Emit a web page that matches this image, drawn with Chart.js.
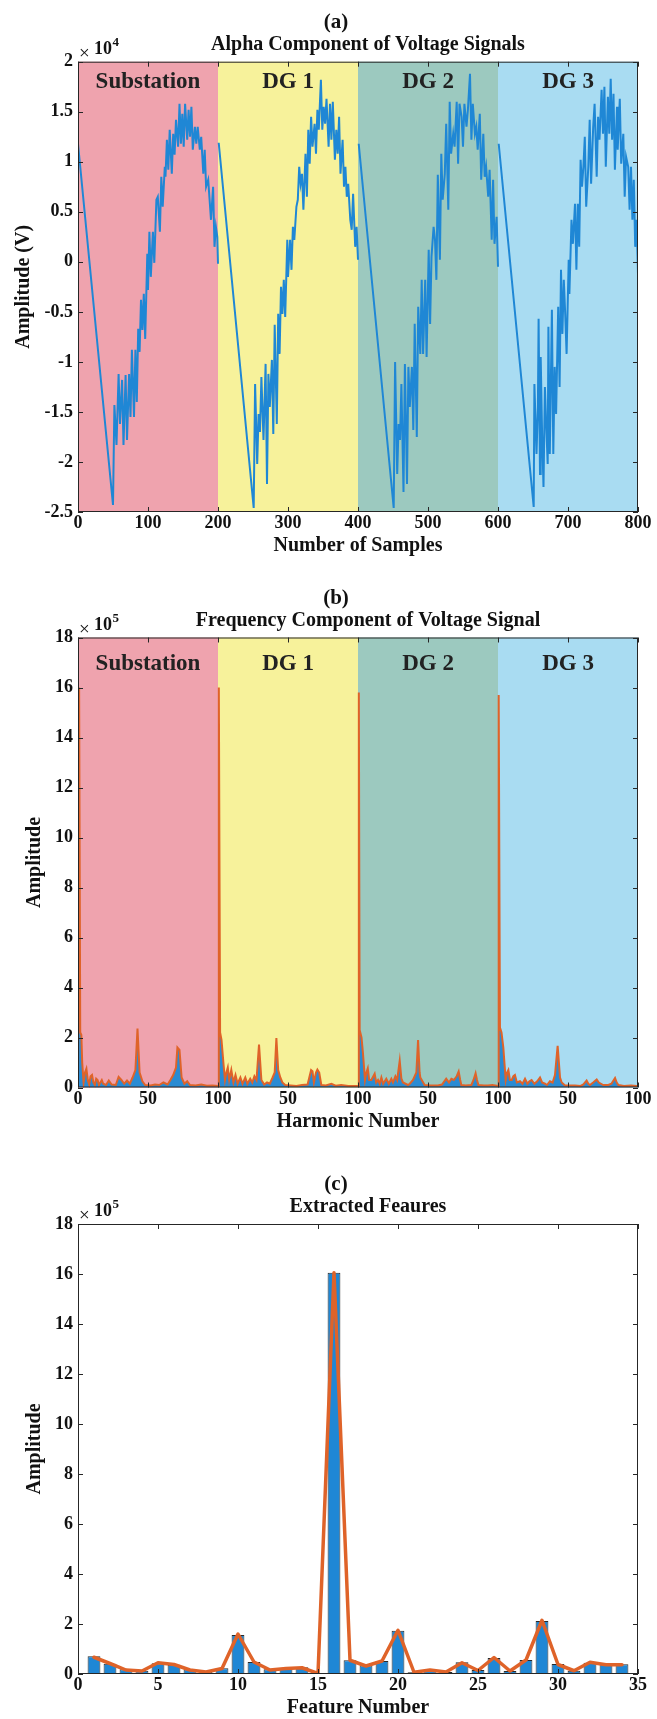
<!DOCTYPE html>
<html><head><meta charset="utf-8">
<script src="https://cdn.jsdelivr.net/npm/chart.js@4.4.1/dist/chart.umd.min.js"></script>
<style>
html,body{margin:0;padding:0;background:#fff;}
#wrap{position:relative;width:657px;height:1719px;overflow:hidden;}
canvas{position:absolute;left:0;}
</style></head><body>
<div id="wrap">
<canvas id="ca" width="657" height="570" style="top:0px;width:657px;height:570px"></canvas>
<canvas id="cb" width="657" height="570" style="top:570px;width:657px;height:570px"></canvas>
<canvas id="cc" width="657" height="579" style="top:1140px;width:657px;height:579px"></canvas>
</div>
<script>
// ---------------- DATA ----------------
const sectionNames = ['Substation', 'DG 1', 'DG 2', 'DG 3'];
const alphaSectionEdges = [0, 200, 400, 600, 800];
const spectrumSectionEdges = [0, 100, 200, 300, 400];
const harmonicTickLabels = ['0', '50', '100', '50', '100', '50', '100', '50', '100'];

// Panel (a): [sample, amplitude x1e4]
const alphaSubstation = [[0,1.18],[50,-2.43],[52,-1.43],[55,-1.83],[58,-1.12],[60,-1.62],[63,-1.18],[65,-1.83],[68,-1.13],[70,-1.78],[73,-1.12],[75,-1.55],[77,-0.88],[80,-1.55],[82,-0.88],[84,-1.40],[86,-0.67],[88,-0.90],[90,-0.38],[92,-0.68],[94,-0.32],[96,-0.77],[99,0.08],[100,-0.28],[102,0.30],[104,-0.15],[107,0.30],[109,-0.01],[112,0.62],[114,0.65],[117,0.30],[119,0.85],[121,0.55],[124,0.95],[125,0.85],[127,1.22],[129,0.92],[131,1.32],[134,0.88],[136,1.28],[138,1.07],[140,1.42],[143,1.15],[145,1.58],[147,1.18],[149,1.48],[151,1.15],[153,1.58],[156,1.22],[158,1.52],[160,1.25],[162,1.55],[164,1.12],[167,1.35],[169,1.18],[171,1.35],[174,1.12],[176,1.25],[179,0.88],[181,1.12],[183,0.75],[186,0.82],[188,0.62],[190,0.42],[193,0.75],[195,0.15],[197,0.35],[199,0.25],[200,-0.02]];
const alphaDG1 = [[201,1.19],[251,-2.46],[253,-1.22],[256,-2.02],[258,-1.52],[260,-1.70],[262,-1.15],[265,-1.78],[268,-1.02],[270,-2.22],[272,-1.12],[274,-1.45],[277,-0.98],[279,-1.72],[281,-0.63],[284,-1.62],[286,-0.52],[288,-0.92],[290,-0.25],[292,-0.52],[294,-0.18],[296,-0.55],[299,0.22],[300,-0.15],[303,0.22],[305,-0.08],[307,0.35],[309,0.22],[312,0.55],[314,0.62],[316,0.95],[318,0.78],[320,0.88],[322,0.52],[325,1.08],[327,0.65],[329,1.32],[331,0.98],[333,1.45],[335,1.15],[338,1.38],[340,1.08],[342,1.52],[344,1.32],[347,1.82],[349,1.32],[351,1.55],[353,1.38],[355,1.63],[358,1.15],[360,1.58],[362,1.22],[364,1.60],[367,1.02],[369,1.32],[371,1.08],[373,1.45],[375,0.88],[378,1.22],[380,0.75],[382,0.95],[384,0.65],[386,0.78],[389,0.42],[391,0.32],[393,0.68],[396,0.15],[398,0.35],[400,0.02]];
const alphaDG2 = [[401,1.18],[451,-2.46],[453,-1.00],[456,-2.12],[458,-1.62],[460,-1.78],[462,-1.22],[465,-2.30],[467,-1.02],[470,-2.22],[472,-1.05],[474,-1.45],[477,-1.05],[479,-1.68],[481,-0.62],[484,-1.75],[486,-0.45],[489,-0.92],[491,-0.18],[493,-0.92],[496,-0.18],[498,-0.95],[501,0.12],[503,-0.62],[505,0.05],[508,0.35],[510,0.22],[512,-0.18],[514,0.87],[517,0.02],[519,1.08],[521,0.62],[524,0.88],[526,1.38],[529,0.52],[531,1.60],[533,1.08],[536,1.28],[538,1.15],[541,1.60],[543,0.98],[545,1.58],[548,1.45],[550,1.15],[552,1.58],[555,1.35],[557,1.52],[560,1.88],[562,1.22],[564,1.58],[567,1.28],[569,1.35],[571,1.12],[574,1.48],[576,0.82],[579,1.28],[581,0.85],[583,0.95],[586,0.65],[588,0.92],[591,0.22],[593,0.82],[595,0.18],[598,0.45],[600,-0.05]];
const alphaDG3 = [[601,1.18],[651,-2.45],[652,-1.22],[655,-1.92],[657,-1.45],[658,-0.57],[660,-2.12],[661,-0.95],[663,-1.72],[665,-2.25],[667,-1.25],[669,-1.65],[671,-2.02],[672,-0.65],[674,-1.92],[677,-0.48],[679,-1.92],[681,-1.05],[683,-1.52],[686,-0.45],[688,-1.25],[690,-0.08],[692,-0.72],[694,-0.18],[696,-0.52],[698,-0.92],[701,0.02],[702,-0.32],[705,0.42],[707,0.18],[710,0.58],[712,-0.08],[714,0.58],[716,0.15],[718,1.02],[720,0.75],[722,0.95],[724,1.25],[726,0.55],[729,0.95],[731,1.42],[733,0.78],[736,1.35],[738,1.58],[741,0.85],[743,1.45],[745,1.22],[748,1.72],[750,1.28],[752,1.75],[754,0.95],[757,1.65],[759,1.28],[761,1.83],[763,1.22],[765,1.68],[767,0.92],[770,1.55],[771,1.12],[774,1.63],[776,0.98],[779,1.28],[781,0.65],[783,1.05],[786,0.95],[788,0.52],[790,0.95],[792,0.42],[794,0.82],[796,0.15],[798,0.42],[800,-0.12]];

// Panel (b): [position, amplitude x1e5]
const spectrumSubstation = [[0,0.1],[0.8,16.0],[1.6,2.2],[2.4,2.1],[3,1.0],[4,0.2],[5,0.6],[6,0.75],[7,0.3],[8,0.12],[9,0.45],[10,0.5],[11,0.2],[12,0.1],[13,0.35],[14,0.3],[15,0.1],[17,0.3],[18,0.15],[20,0.1],[22,0.28],[24,0.12],[27,0.1],[29,0.42],[31,0.3],[33,0.15],[35,0.28],[37,0.15],[39,0.4],[41,0.7],[42.5,2.36],[44,0.6],[46,0.25],[48,0.1],[52,0.08],[55,0.12],[58,0.1],[61,0.2],[64,0.12],[66,0.3],[68,0.5],[70,0.8],[71,1.6],[72.5,1.5],[74,0.4],[76,0.15],[78,0.25],[80,0.1],[84,0.08],[88,0.12],[92,0.07],[96,0.08],[100,0.06]];
const spectrumDG1 = [[100.6,16.0],[101.5,2.2],[102.5,1.9],[104,0.9],[105,0.3],[106,0.6],[107,0.8],[108,0.3],[109.5,0.7],[111,0.2],[112.5,0.5],[114,0.15],[116,0.4],[117.5,0.15],[119.5,0.4],[121,0.15],[123,0.35],[124.5,0.2],[126,0.45],[127.5,0.3],[129.3,1.72],[131,0.3],[133,0.12],[135,0.2],[137,0.15],[139,0.4],[140.5,0.6],[141.7,1.98],[143,0.7],[144.5,0.4],[146,0.2],[148,0.1],[152,0.08],[156,0.06],[160,0.1],[164,0.12],[166.5,0.7],[167.5,0.65],[168.5,0.2],[170,0.6],[171,0.72],[172.3,0.6],[173.8,0.1],[177,0.08],[181,0.15],[184,0.07],[188,0.1],[193,0.06],[200,0.06]];
const spectrumDG2 = [[200.6,15.8],[201.2,2.3],[202.5,2.0],[203.5,1.4],[205,0.3],[206,0.6],[207,0.77],[208,0.3],[209.5,0.3],[211.9,0.55],[213,0.2],[214.3,0.3],[215.5,0.15],[216.7,0.4],[218,0.15],[220.2,0.35],[222,0.15],[223.8,0.35],[225,0.2],[226.7,0.45],[228,0.3],[229.8,1.07],[231,0.35],[232.1,0.2],[235.7,0.1],[237,0.15],[239.3,0.3],[240.5,0.45],[241.7,0.6],[242.9,1.9],[244,0.6],[244.5,0.4],[247.6,0.1],[252,0.08],[257.1,0.08],[260,0.12],[263,0.35],[265,0.2],[266.7,0.35],[268.5,0.3],[270.5,0.45],[271.9,0.64],[273,0.3],[273.8,0.1],[277,0.08],[281,0.1],[282.5,0.3],[284,0.57],[285,0.3],[286,0.1],[290,0.08],[292.8,0.08],[296,0.1],[300,0.06]];
const spectrumDG3 = [[300.5,15.7],[301.4,2.4],[302.5,2.2],[303.8,1.6],[305.5,0.3],[306.5,0.6],[307.4,0.7],[308.5,0.3],[309.8,0.3],[311,0.45],[312.1,0.5],[313.5,0.2],[315.7,0.25],[317.5,0.15],[319.3,0.35],[321,0.15],[322.5,0.25],[324,0.3],[326,0.15],[328,0.25],[330,0.4],[331.5,0.2],[333.6,0.15],[335,0.1],[337.1,0.25],[339,0.2],[340.7,0.5],[342.6,1.67],[344.3,0.4],[345.5,0.2],[347.9,0.08],[352,0.08],[355,0.08],[359,0.06],[361,0.12],[363.3,0.28],[364.5,0.15],[365.7,0.1],[368,0.2],[370.5,0.32],[372,0.2],[375.2,0.1],[378.8,0.1],[381,0.15],[383.6,0.38],[384.8,0.2],[386,0.1],[390,0.06],[395,0.08],[399,0.06],[400,0.06]];

// Panel (c): features (amplitude x1e5)
const featureNumbers = [1,2,3,4,5,6,7,8,9,10,11,12,13,14,15,16,17,18,19,20,21,22,23,24,25,26,27,28,29,30,31,32,33,34];
const featureBarValues = [0.71,0.41,0.19,0.13,0.43,0.37,0.19,0.10,0.23,1.56,0.48,0.19,0.24,0.27,0.03,16.05,0.55,0.35,0.52,1.73,0.07,0.16,0.08,0.47,0.16,0.64,0.12,0.56,2.12,0.40,0.13,0.45,0.40,0.39];
const featureLineValues = [0.67,0.42,0.16,0.12,0.45,0.38,0.16,0.08,0.22,1.60,0.48,0.16,0.22,0.25,0.02,16.05,0.55,0.32,0.52,1.75,0.07,0.16,0.08,0.45,0.14,0.66,0.12,0.56,2.15,0.38,0.13,0.47,0.37,0.37];

// ---------------- STYLE ----------------
const FONT = '"Liberation Serif", "Times New Roman", serif';
const BLUE = '#1F87D5';
const ORANGE = '#DF6329';
const AXC = '#262626';
const sectionColors = ['#EFA3AE', '#F7F29B', '#9CC9BF', '#A9DCF2'];

Chart.defaults.font.family = FONT;
Chart.defaults.font.weight = 'bold';
Chart.defaults.font.size = 18;
Chart.defaults.color = '#111';
Chart.defaults.animation = false;

const toXY = arr => arr.map(p => ({x: p[0], y: p[1]}));

function panelPlugin(o) {
  return {
    id: 'panel_' + o.id,
    beforeDatasetsDraw(chart) {
      if (!o.edges) return;
      const {ctx, chartArea: a, scales: {x}} = chart;
      ctx.save();
      for (let i = 0; i < sectionNames.length; i++) {
        const x0 = x.getPixelForValue(o.edges[i]);
        const x1 = x.getPixelForValue(o.edges[i + 1]);
        ctx.fillStyle = sectionColors[i];
        ctx.fillRect(x0, a.top, x1 - x0, a.bottom - a.top);
      }
      ctx.fillStyle = '#222';
      ctx.font = 'bold 23px ' + FONT;
      ctx.textAlign = 'center';
      ctx.textBaseline = 'middle';
      for (let i = 0; i < sectionNames.length; i++) {
        const x0 = x.getPixelForValue(o.edges[i]);
        const x1 = x.getPixelForValue(o.edges[i + 1]);
        ctx.fillText(sectionNames[i], (x0 + x1) / 2, a.top + o.secLabelDy);
      }
      ctx.restore();
    },
    afterDraw(chart) {
      const {ctx, chartArea: a, scales: {x, y}} = chart;
      ctx.save();
      ctx.strokeStyle = AXC;
      ctx.lineWidth = 1;
      ctx.strokeRect(a.left + 0.5, a.top + 0.5, a.right - a.left - 1, a.bottom - a.top - 1);
      const tl = 5;
      ctx.beginPath();
      x.ticks.forEach(t => {
        const px = Math.round(x.getPixelForValue(t.value)) + 0.5;
        ctx.moveTo(px, a.bottom); ctx.lineTo(px, a.bottom - tl);
        ctx.moveTo(px, a.top); ctx.lineTo(px, a.top + tl);
      });
      y.ticks.forEach(t => {
        const py = Math.round(y.getPixelForValue(t.value)) + 0.5;
        ctx.moveTo(a.left, py); ctx.lineTo(a.left + tl, py);
        ctx.moveTo(a.right, py); ctx.lineTo(a.right - tl, py);
      });
      ctx.stroke();

      ctx.fillStyle = '#111';
      ctx.textAlign = 'center';
      ctx.textBaseline = 'middle';
      ctx.font = 'bold 21px ' + FONT;
      ctx.fillText(o.label, 336, a.top - 39);
      ctx.font = 'bold 20px ' + FONT;
      ctx.fillText(o.title, 368, a.top - 17);
      ctx.fillText(o.xTitle, (a.left + a.right) / 2, a.bottom + 34);
      ctx.save();
      ctx.translate(o.yTitleX, (a.top + a.bottom) / 2);
      ctx.rotate(-Math.PI / 2);
      ctx.fillText(o.yTitle, 0, 0);
      ctx.restore();

      // exponent label
      ctx.textAlign = 'left';
      ctx.textBaseline = 'alphabetic';
      ctx.font = '19px ' + FONT;
      ctx.fillText('\u00D7', a.left + 1, a.top - 3);
      ctx.font = 'bold 18px ' + FONT;
      ctx.fillText('10', a.left + 16, a.top - 8);
      const w = ctx.measureText('10').width;
      ctx.font = 'bold 13px ' + FONT;
      ctx.fillText(o.exponent, a.left + 16 + w + 0.5, a.top - 16);
      ctx.restore();
    }
  };
}

function baseScales(H, bottom, xOpts, yOpts) {
  return {
    x: Object.assign({
      type: 'linear',
      grid: {display: false, drawTicks: false},
      border: {display: false},
      afterFit: s => { s.height = H - bottom; }
    }, xOpts),
    y: Object.assign({
      type: 'linear',
      grid: {display: false, drawTicks: false},
      border: {display: false},
      afterFit: s => { s.width = 78; }
    }, yOpts)
  };
}

const tickFont = {size: 18, weight: 'bold'};

// ---------------- PANEL (a) ----------------
new Chart(document.getElementById('ca'), {
  type: 'line',
  data: {datasets: [alphaSubstation, alphaDG1, alphaDG2, alphaDG3].map(d => ({
    data: toXY(d), borderColor: BLUE, borderWidth: 2, pointRadius: 0, tension: 0, fill: false
  }))},
  options: {
    responsive: false, devicePixelRatio: 1,
    layout: {padding: {top: 61.7, right: 19, bottom: 0, left: 0}},
    plugins: {legend: {display: false}, tooltip: {enabled: false}},
    scales: baseScales(570, 512, {
      min: 0, max: 800, ticks: {stepSize: 100, padding: 1, maxRotation: 0, autoSkip: false, font: tickFont, color: '#111'}
    }, {
      min: -2.5, max: 2,
      ticks: {stepSize: 0.5, padding: 5, font: tickFont, color: '#111', callback: v => String(v)}
    })
  },
  plugins: [panelPlugin({id: 'a', edges: alphaSectionEdges, secLabelDy: 20, label: '(a)', title: 'Alpha Component of Voltage Signals',
    xTitle: 'Number of Samples', yTitle: 'Amplitude (V)', yTitleX: 24, exponent: '4'})]
});

// ---------------- PANEL (b) ----------------
new Chart(document.getElementById('cb'), {
  type: 'line',
  data: {datasets: [{
    data: toXY(spectrumSubstation.concat(spectrumDG1, spectrumDG2, spectrumDG3)),
    borderColor: ORANGE, borderWidth: 2, backgroundColor: '#2A8BD3', fill: 'origin', pointRadius: 0, tension: 0
  }]},
  options: {
    responsive: false, devicePixelRatio: 1,
    layout: {padding: {top: 67.5, right: 19, bottom: 0, left: 0}},
    plugins: {legend: {display: false}, tooltip: {enabled: false}},
    scales: baseScales(570, 517.5, {
      min: 0, max: 400,
      ticks: {stepSize: 50, padding: 1, maxRotation: 0, autoSkip: false, font: tickFont, color: '#111',
        callback: (v, i) => harmonicTickLabels[i]}
    }, {
      min: 0, max: 18,
      ticks: {stepSize: 2, padding: 5, font: tickFont, color: '#111'}
    })
  },
  plugins: [panelPlugin({id: 'b', edges: spectrumSectionEdges, secLabelDy: 27, label: '(b)', title: 'Frequency Component of Voltage Signal',
    xTitle: 'Harmonic Number', yTitle: 'Amplitude', yTitleX: 35, exponent: '5'})]
});

// ---------------- PANEL (c) ----------------
new Chart(document.getElementById('cc'), {
  type: 'bar',
  data: {datasets: [
    {type: 'line', data: featureNumbers.map((n, i) => ({x: n, y: featureLineValues[i]})),
      borderColor: ORANGE, borderWidth: 3.5, pointRadius: 0, tension: 0, order: 0, borderJoinStyle: 'round', borderCapStyle: 'round'},
    {type: 'bar', data: featureNumbers.map((n, i) => ({x: n, y: featureBarValues[i]})),
      backgroundColor: BLUE, borderColor: '#2a2a2a', borderWidth: 1, borderSkipped: false,
      barPercentage: 0.8, categoryPercentage: 1, order: 1}
  ]},
  options: {
    responsive: false, devicePixelRatio: 1,
    layout: {padding: {top: 84, right: 19, bottom: 0, left: 0}},
    plugins: {legend: {display: false}, tooltip: {enabled: false}},
    scales: baseScales(579, 534, {
      min: 0, max: 35, offset: false,
      ticks: {stepSize: 5, padding: 1, maxRotation: 0, autoSkip: false, font: tickFont, color: '#111'}
    }, {
      min: 0, max: 18,
      ticks: {stepSize: 2, padding: 5, font: tickFont, color: '#111'}
    })
  },
  plugins: [panelPlugin({id: 'c', edges: null, secLabelDy: 0, label: '(c)', title: 'Extracted Feaures',
    xTitle: 'Feature Number', yTitle: 'Amplitude', yTitleX: 35, exponent: '5'})]
});
</script>
</body></html>
